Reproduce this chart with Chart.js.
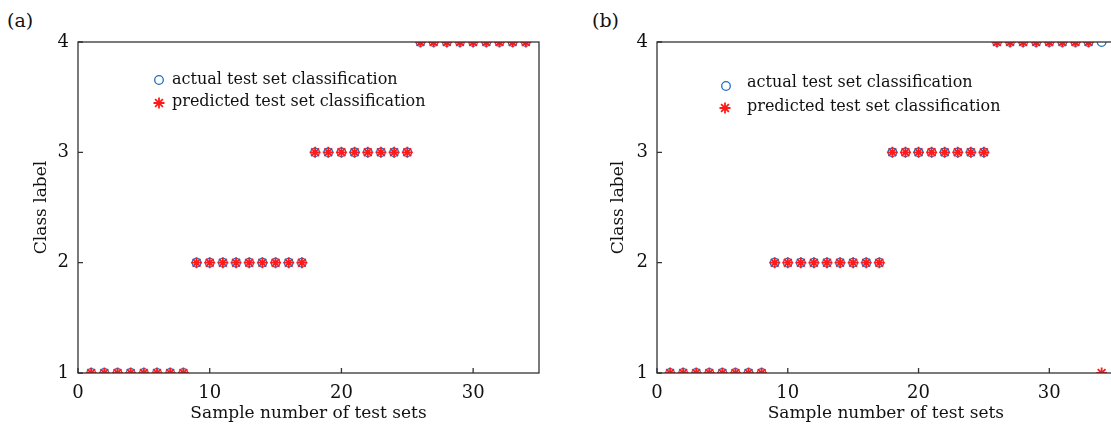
<!DOCTYPE html>
<html>
<head>
<meta charset="utf-8">
<script src="https://cdn.jsdelivr.net/npm/chart.js@4.4.1/dist/chart.umd.min.js"></script>
<style>
  html, body { margin: 0; padding: 0; background: #fff; overflow: hidden; }
  body { width: 1111px; height: 424px; position: relative; }
  .panel { position: absolute; top: 0; height: 424px; }
  .tag { position: absolute; top: 9px; font-family: "DejaVu Serif", serif; font-size: 19px; color: #111; }
</style>
</head>
<body>
<div class="tag" style="left:7px">(a)</div>
<div class="tag" style="left:592px">(b)</div>
<div class="panel" style="left:0; width:560px"><canvas id="chartA"></canvas></div>
<div class="panel" style="left:560px; width:562px"><canvas id="chartB"></canvas></div>

<script>
// sample numbers of the test set
var sampleNumbers = [1, 2, 3, 4, 5, 6, 7, 8, 9, 10, 11, 12, 13, 14, 15, 16, 17,
                     18, 19, 20, 21, 22, 23, 24, 25, 26, 27, 28, 29, 30, 31, 32, 33, 34];

// (a)
var actualA    = [1, 1, 1, 1, 1, 1, 1, 1, 2, 2, 2, 2, 2, 2, 2, 2, 2,
                  3, 3, 3, 3, 3, 3, 3, 3, 4, 4, 4, 4, 4, 4, 4, 4, 4];
var predictedA = [1, 1, 1, 1, 1, 1, 1, 1, 2, 2, 2, 2, 2, 2, 2, 2, 2,
                  3, 3, 3, 3, 3, 3, 3, 3, 4, 4, 4, 4, 4, 4, 4, 4, 4];

// (b) - last sample is misclassified
var actualB    = [1, 1, 1, 1, 1, 1, 1, 1, 2, 2, 2, 2, 2, 2, 2, 2, 2,
                  3, 3, 3, 3, 3, 3, 3, 3, 4, 4, 4, 4, 4, 4, 4, 4, 4];
var predictedB = [1, 1, 1, 1, 1, 1, 1, 1, 2, 2, 2, 2, 2, 2, 2, 2, 2,
                  3, 3, 3, 3, 3, 3, 3, 3, 4, 4, 4, 4, 4, 4, 4, 4, 1];

var xTicks = [0, 10, 20, 30];
var yTicks = [1, 2, 3, 4];
var xRange = [0, 35];
var yRange = [1, 4];

var legendLabels = ['actual test set classification', 'predicted test set classification'];
var xTitle = 'Sample number of test sets';
var yTitle = 'Class label';

var BLUE = '#1f6fc0';
var RED = '#ff1a1a';
var AXIS = '#333333';
var SERIF = '"DejaVu Serif", serif';

function toPoints(values) {
  return values.map(function(v, i) { return { x: sampleNumbers[i], y: v }; });
}

// frame, inward ticks and the in-plot legend
var framePlugin = {
  id: 'frame',
  afterDatasetsDraw: function(chart, args, opts) {
    var ctx = chart.ctx;
    var a = chart.chartArea;
    var xs = chart.scales.x, ys = chart.scales.y;
    ctx.save();
    ctx.strokeStyle = AXIS;
    ctx.lineWidth = 1.3;
    ctx.strokeRect(a.left, a.top, a.right - a.left, a.bottom - a.top);
    ctx.beginPath();
    xTicks.forEach(function(v) {
      var px = xs.getPixelForValue(v);
      ctx.moveTo(px, a.bottom);
      ctx.lineTo(px, a.bottom - 5);
    });
    yTicks.forEach(function(v) {
      var py = ys.getPixelForValue(v);
      ctx.moveTo(a.left, py);
      ctx.lineTo(a.left + 5, py);
    });
    ctx.stroke();

    // legend
    var ds = chart.data.datasets;
    ctx.font = '16px ' + SERIF;
    ctx.textBaseline = 'alphabetic';
    ctx.textAlign = 'left';
    opts.rows.forEach(function(row, i) {
      var d = ds[i];
      ctx.strokeStyle = d.borderColor;
      ctx.fillStyle = 'rgba(0,0,0,0)';
      ctx.lineWidth = d.borderWidth;
      Chart.helpers.drawPoint(ctx, { pointStyle: d.pointStyle, radius: d.pointRadius, rotation: 0, borderWidth: d.borderWidth }, row.mx, row.my);
      ctx.fillStyle = '#111';
      ctx.fillText(d.label, row.tx, row.ty);
    });
    ctx.restore();
  }
};

function makePanel(id, actual, predicted, box) {
  return new Chart(document.getElementById(id), {
    type: 'scatter',
    data: {
      datasets: [{
        label: legendLabels[0],
        data: toPoints(actual),
        pointStyle: 'circle',
        pointRadius: 4.3,
        borderWidth: 1.3,
        borderColor: BLUE,
        backgroundColor: 'rgba(0,0,0,0)',
        order: 2
      }, {
        label: legendLabels[1],
        data: toPoints(predicted),
        pointStyle: 'star',
        pointRadius: 5.5,
        borderWidth: 1.8,
        borderColor: RED,
        backgroundColor: RED,
        order: 1
      }]
    },
    options: {
      responsive: true,
      maintainAspectRatio: false,
      animation: false,
      events: [],
      layout: { padding: { top: 42, right: box.padRight, left: 0, bottom: 0 } },
      plugins: {
        legend: { display: false },
        tooltip: { enabled: false },
        frame: { rows: box.legendRows }
      },
      scales: {
        x: {
          type: 'linear',
          min: xRange[0],
          max: xRange[1],
          afterBuildTicks: function(s) { s.ticks = xTicks.map(function(v) { return { value: v }; }); },
          afterFit: function(s) { s.height = 51; },
          grid: { display: false, drawTicks: false },
          border: { display: false },
          ticks: { padding: 10, color: '#111', font: { family: SERIF, size: 18 } },
          title: { display: true, text: xTitle, color: '#111', padding: { top: 0, bottom: 0 },
                   font: { family: SERIF, size: 17 } }
        },
        y: {
          type: 'linear',
          min: yRange[0],
          max: yRange[1],
          afterBuildTicks: function(s) { s.ticks = yTicks.map(function(v) { return { value: v }; }); },
          afterFit: function(s) { s.width = box.yWidth; },
          grid: { display: false, drawTicks: false },
          border: { display: false },
          ticks: { padding: 9, color: '#111', font: { family: SERIF, size: 18 } },
          title: { display: true, text: yTitle, color: '#111', padding: { top: box.yTitlePad, bottom: 0 },
                   font: { family: SERIF, size: 17 } }
        }
      }
    },
    plugins: [framePlugin]
  });
}

var chartA = makePanel('chartA', actualA, predictedA, {
  yWidth: 78, padRight: 21, yTitlePad: 31,
  legendRows: [{ mx: 159, my: 80, tx: 172, ty: 84 }, { mx: 159, my: 103, tx: 172, ty: 106 }]
});

var chartB = makePanel('chartB', actualB, predictedB, {
  yWidth: 97, padRight: 4, yTitlePad: 48,
  legendRows: [{ mx: 166, my: 86, tx: 187, ty: 87 }, { mx: 165, my: 108, tx: 187, ty: 111 }]
});
</script>
</body>
</html>
